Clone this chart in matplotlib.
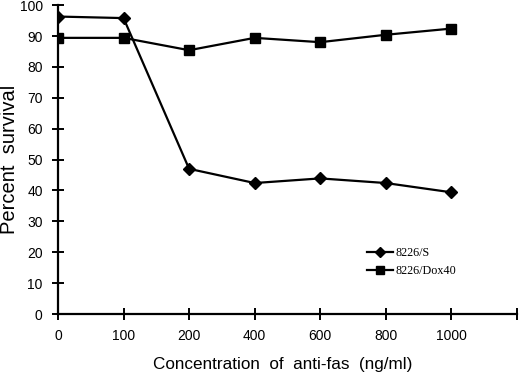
import matplotlib
matplotlib.use("Agg")
import matplotlib.pyplot as plt

categories = ["0", "100", "200", "400", "600", "800", "1000"]
s_values = [96.3, 95.8, 47.0, 42.4, 43.9, 42.4, 39.4]
dox_values = [89.4, 89.4, 85.4, 89.4, 88.0, 90.4, 92.4]
yticks = list(range(0, 101, 10))

fig = plt.figure(figsize=(5.2, 3.79), dpi=100)
ax = fig.add_axes([0.1115, 0.1715, 0.8825, 0.815])
x = list(range(len(categories)))
ax.plot(x, s_values, color="black", lw=1.6, marker="D", ms=6, label="8226/S")
ax.plot(x, dox_values, color="black", lw=1.6, marker="s", ms=6.5, label="8226/Dox40")
ax.set_xlim(0, len(categories))
ax.set_ylim(0, 100)
ax.set_xticks(list(range(len(categories) + 1)))
ax.set_xticklabels(categories + [""], fontfamily="Liberation Sans", fontsize=10)
ax.set_yticks(yticks)
ax.set_yticklabels([str(v) for v in yticks], fontfamily="Liberation Sans", fontsize=10)
for s in ["top", "right"]:
    ax.spines[s].set_visible(False)
for s in ["left", "bottom"]:
    ax.spines[s].set_linewidth(1.6)
ax.tick_params(direction="inout", length=8, width=1.4, pad=7)
ax.set_xlabel("Concentration  of  anti-fas  (ng/ml)", fontfamily="Liberation Sans", fontsize=12.3)
ax.xaxis.set_label_coords(0.49, -0.14)
ax.set_ylabel("Percent  survival", fontfamily="Liberation Sans", fontsize=14.5)
ax.yaxis.set_label_coords(-0.085, 0.5)
ax.legend(loc="center left", bbox_to_anchor=((367 - 58) / 459, (314 - 262) / 309), frameon=False,
          prop={"family": "Liberation Serif", "size": 8.7}, handlelength=2.2,
          handletextpad=0.2, labelspacing=0.45, borderpad=0, borderaxespad=0,
          markerscale=0.85)
fig.savefig("out.png", dpi=100)
